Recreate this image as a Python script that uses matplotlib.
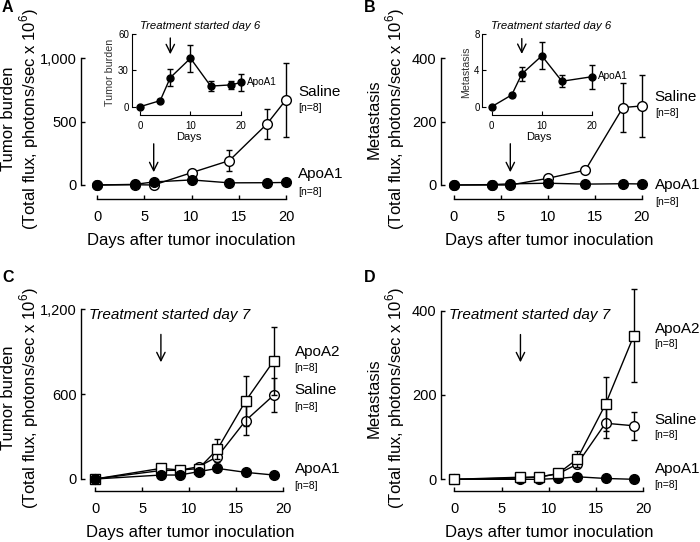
import matplotlib
matplotlib.use('Agg')
import matplotlib.pyplot as plt

plt.rcParams['font.family'] = ['Liberation Sans', 'DejaVu Sans']
plt.rcParams['mathtext.fontset'] = 'custom'
plt.rcParams['mathtext.rm'] = 'Liberation Sans'

# ---- data ----
days_a = [0, 4, 6, 10, 14, 18, 20]
apoa1_a = [0, 5, 24, 40, 17, 18, 20]
apoa1_a_err = [0, 1, 7, 11, 4, 3, 7]
saline_a = [0, 2, 0, 97, 192, 482, 671]
saline_a_err = [0, 0, 0, 10, 80, 120, 290]

days_b_inset = [0, 4, 6, 10, 14, 20]
apoa1_b_inset = [0, 1.3, 3.6, 5.6, 2.8, 3.3]
apoa1_b_inset_err = [0, 0.2, 0.8, 1.5, 0.65, 1.3]
days_b = [0, 4, 6, 10, 14, 18, 20]
apoa1_b = [0, 1.3, 3.6, 5.6, 2.8, 4, 3.3]
saline_b = [0, 0, 0, 21, 47, 244, 249]
saline_b_err = [0, 0, 0, 3, 5, 78, 97]

days_cd = [0, 7, 9, 11, 13, 16, 19]
apoa2_c = [0, 75, 64, 73, 210, 552, 837]
apoa2_c_err = [0, 10, 10, 10, 70, 175, 240]
saline_c = [0, 60, 62, 87, 158, 413, 594]
saline_c_err = [0, 10, 10, 10, 40, 105, 120]
apoa1_c = [0, 28, 28, 52, 75, 47, 28]
apoa1_c_err = [0, 5, 5, 8, 10, 8, 5]

apoa2_d = [0, 5, 5, 14, 48, 178, 341]
apoa2_d_err = [0, 2, 2, 3, 18, 64, 110]
saline_d = [0, 3, 6, 13, 36, 133, 127]
saline_d_err = [0, 1, 2, 3, 10, 36, 33]
apoa1_d = [0, 0, 0, 2, 6, 2, 0]
apoa1_d_err = [0, 0, 0, 1, 2, 1, 0]

W, H = 700, 542
fig = plt.figure(figsize=(7, 5.42), dpi=100)


def make_axes(left, right, top, bottom, x_px, x_val, y_px, y_val):
    # place axes by pixel box, and set limits so data lands where it is in the picture
    ax = fig.add_axes([left / W, 1 - bottom / H, (right - left) / W, (bottom - top) / H])
    sx = (x_val[1] - x_val[0]) / (x_px[1] - x_px[0])
    ax.set_xlim(x_val[0] + (left - x_px[0]) * sx, x_val[0] + (right - x_px[0]) * sx)
    sy = (y_val[1] - y_val[0]) / (y_px[0] - y_px[1])
    ax.set_ylim(y_val[0] - (bottom - y_px[0]) * sy, y_val[0] + (y_px[0] - top) * sy)
    ax.patch.set_alpha(0)
    return ax


def style(ax, xticks, yticks, yticklabels, fs, xpad, ypad, lw=1.0):
    for s in ['top', 'right']:
        ax.spines[s].set_visible(False)
    ax.spines['left'].set_bounds(yticks[0], yticks[-1])
    ax.spines['bottom'].set_bounds(xticks[0], xticks[-1])
    ax.spines['left'].set_linewidth(lw)
    ax.spines['bottom'].set_linewidth(lw)
    ax.set_xticks(xticks)
    ax.set_yticks(yticks)
    ax.set_yticklabels(yticklabels)
    ax.tick_params(axis='both', direction='in', length=3, width=lw, labelsize=fs)
    ax.tick_params(axis='x', pad=xpad)
    ax.tick_params(axis='y', pad=ypad)


def series(ax, x, y, err, marker, filled, ms, z):
    ax.errorbar(x, y, yerr=err, color='black', lw=1, elinewidth=1, capsize=2.5, capthick=1,
                marker=marker, ms=ms, mfc='black' if filled else 'white', mec='black', mew=1,
                zorder=z, clip_on=False)


def group_label(ax, x, y, y2, name, fs=11, fs2=7.5):
    ax.text(x, y, name, fontsize=fs, va='center', ha='left')
    ax.text(x, y2, '[n=8]', fontsize=fs2, va='center', ha='left')


arrowprops = dict(arrowstyle='->,head_length=0.6,head_width=0.3', lw=1, color='black')
ylab2 = '(Total flux, photons/sec x 10$^6$)'

# ---------------- A ----------------
ax = make_axes(81, 292, 45, 199, (97, 286), (0, 20), (185, 58), (0, 1000))
style(ax, [0, 5, 10, 15, 20], [0, 500, 1000], ['0', '500', '1,000'], 10.5, 8, 3)
series(ax, days_a, saline_a, saline_a_err, 'o', False, 7, 2)
series(ax, days_a, apoa1_a, apoa1_a_err, 'o', True, 7, 3)
ax.annotate('', xy=(6, 79), xytext=(6, 346), arrowprops=arrowprops)
group_label(ax, 21.3, 732, 606, 'Saline')
group_label(ax, 21.3, 87, -55, 'ApoA1')

ins = make_axes(131.7, 245, 30, 115, (140, 241), (0, 20), (106.7, 34), (0, 60))
style(ins, [0, 10, 20], [0, 30, 60], ['0', '30', '60'], 7, 4, 2, lw=0.8)
series(ins, days_a, apoa1_a, apoa1_a_err, 'o', True, 5, 3)
ins.annotate('', xy=(6, 41), xytext=(6, 59), arrowprops=arrowprops)
ins.text(0, 66.6, 'Treatment started day 6', fontsize=8.2, style='italic', va='center', ha='left')
ins.text(21.1, 20.6, 'ApoA1', fontsize=7.2, va='center', ha='left')
ins.set_xlabel('Days', fontsize=8, labelpad=1)
ins.set_ylabel('Tumor burden', fontsize=7.7, color='#333333', labelpad=2)

# ---------------- B ----------------
ax = make_axes(440.7, 648, 45, 199, (454, 641.7), (0, 20), (185, 58), (0, 400))
style(ax, [0, 5, 10, 15, 20], [0, 200, 400], ['0', '200', '400'], 10.5, 8, 3)
series(ax, days_b, saline_b, saline_b_err, 'o', False, 7, 2)
series(ax, days_b, apoa1_b, [0] * len(days_b), 'o', True, 7, 3)
ax.annotate('', xy=(6, 31.5), xytext=(6, 138.6), arrowprops=arrowprops)
group_label(ax, 21.4, 277, 227, 'Saline')
group_label(ax, 21.4, 0, -54, 'ApoA1')

ins = make_axes(482.3, 596, 30, 115, (491.7, 592), (0, 20), (106.7, 34), (0, 8))
style(ins, [0, 10, 20], [0, 4, 8], ['0', '4', '8'], 7, 4, 2, lw=0.8)
series(ins, days_b_inset, apoa1_b_inset, apoa1_b_inset_err, 'o', True, 5, 3)
ins.annotate('', xy=(6, 5.5), xytext=(6, 7.8), arrowprops=arrowprops)
ins.text(-0.2, 8.88, 'Treatment started day 6', fontsize=8.2, style='italic', va='center', ha='left')
ins.text(21.2, 3.4, 'ApoA1', fontsize=7.2, va='center', ha='left')
ins.set_xlabel('Days', fontsize=8, labelpad=1)
ins.set_ylabel('Metastasis', fontsize=7.7, color='#333333', labelpad=2)

# ---------------- C ----------------
ax = make_axes(81, 290, 285, 491, (95, 283.3), (0, 20), (479, 309.3), (0, 1200))
style(ax, [0, 5, 10, 15, 20], [0, 600, 1200], ['0', '600', '1,200'], 10.5, 8, 3)
series(ax, days_cd, saline_c, saline_c_err, 'o', False, 7, 2)
series(ax, days_cd, apoa2_c, apoa2_c_err, 's', False, 7, 3)
series(ax, days_cd, apoa1_c, apoa1_c_err, 'o', True, 7, 4)
ax.annotate('', xy=(7, 806), xytext=(7, 1042), arrowprops=arrowprops)
ax.text(-0.64, 1160, 'Treatment started day 7', fontsize=11, style='italic', va='center', ha='left')
group_label(ax, 21.2, 900, 785, 'ApoA2')
group_label(ax, 21.2, 629, 511, 'Saline')
group_label(ax, 21.2, 71, -47, 'ApoA1')

# ---------------- D ----------------
ax = make_axes(440.7, 650, 285, 491, (454.3, 643.3), (0, 20), (479.3, 310.7), (0, 400))
style(ax, [0, 5, 10, 15, 20], [0, 200, 400], ['0', '200', '400'], 10.5, 8, 3)
series(ax, days_cd, saline_d, saline_d_err, 'o', False, 7, 2)
series(ax, days_cd, apoa1_d, apoa1_d_err, 'o', True, 7, 3)
series(ax, days_cd, apoa2_d, apoa2_d_err, 's', False, 7, 4)
ax.annotate('', xy=(7, 271), xytext=(7, 350), arrowprops=arrowprops)
ax.text(-0.56, 390, 'Treatment started day 7', fontsize=11, style='italic', va='center', ha='left')
group_label(ax, 21.2, 356, 321, 'ApoA2')
group_label(ax, 21.2, 141, 105, 'Saline')
group_label(ax, 21.2, 24, -14, 'ApoA1')

# ---- shared texts: axis titles and panel letters ----
for x1, x2, cy, name in [(8.5, 29, 119, 'Tumor burden'), (374.5, 395, 119, 'Metastasis'),
                         (8.5, 29, 398, 'Tumor burden'), (374.5, 395, 398, 'Metastasis')]:
    fig.text(x1 / W, 1 - cy / H, name, rotation=90, fontsize=12, ha='center', va='center')
    fig.text(x2 / W, 1 - cy / H, ylab2, rotation=90, fontsize=12, ha='center', va='center')

for cx, cy in [(191, 240), (549, 240), (190, 533), (549, 533)]:
    fig.text(cx / W, 1 - cy / H, 'Days after tumor inoculation', fontsize=12, ha='center', va='center')

for px, py, letter in [(2, 8, 'A'), (364, 8, 'B'), (2, 277, 'C'), (364, 277, 'D')]:
    fig.text(px / W, 1 - py / H, letter, fontsize=11.5, fontweight='bold', ha='left', va='center')

fig.savefig('out.png', dpi=100)
